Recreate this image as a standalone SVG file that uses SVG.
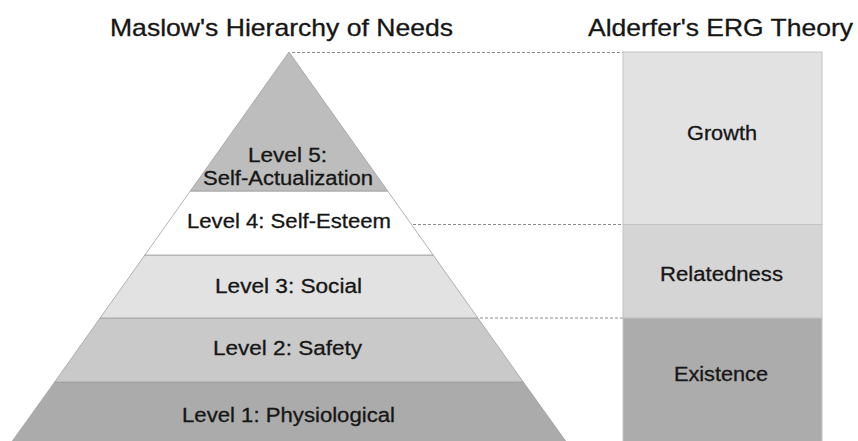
<svg xmlns="http://www.w3.org/2000/svg" width="858" height="441" viewBox="0 0 858 441">
<style>
text{font-family:"Liberation Sans",Arial,sans-serif;fill:#161616;stroke:#161616;stroke-width:0.3}
.t{font-size:24px}
.l{font-size:20px}
.band{stroke:#a0a0a0;stroke-width:0.8}
.box{stroke:#c4c4c4;stroke-width:1}
.dash{stroke:#8a8a8a;stroke-width:1;stroke-dasharray:3 2;fill:none}
</style>
<rect width="858" height="441" fill="#ffffff"/>
<g id="titles">
<text class="t" x="110" y="36" textLength="343" lengthAdjust="spacingAndGlyphs">Maslow's Hierarchy of Needs</text>
<text class="t" x="588" y="36" textLength="265" lengthAdjust="spacingAndGlyphs">Alderfer's ERG Theory</text>
</g>
<g id="connectors">
<line class="dash" x1="292" y1="52.5" x2="623" y2="52.5"/>
<line class="dash" x1="413" y1="224.5" x2="623" y2="224.5"/>
<line class="dash" x1="480" y1="318" x2="623" y2="318"/>
</g>
<g id="level1">
<polygon class="band" points="54.7,382 523.3,382 566,441.5 12,441.5" fill="#ababab"/>
<text class="l" x="182" y="422" textLength="213" lengthAdjust="spacingAndGlyphs">Level 1: Physiological</text>
</g>
<g id="level2">
<polygon class="band" points="100.1,318 477.9,318 523.3,382 54.7,382" fill="#c9c9c9"/>
<text class="l" x="213" y="355" textLength="149" lengthAdjust="spacingAndGlyphs">Level 2: Safety</text>
</g>
<g id="level3">
<polygon class="band" points="144.9,255 433.1,255 477.9,318 100.1,318" fill="#e2e2e2"/>
<text class="l" x="215" y="293" textLength="147" lengthAdjust="spacingAndGlyphs">Level 3: Social</text>
</g>
<g id="level4">
<polygon class="band" points="190.3,191 387.7,191 433.1,255 144.9,255" fill="#ffffff"/>
<text class="l" x="187" y="228" textLength="204" lengthAdjust="spacingAndGlyphs">Level 4: Self-Esteem</text>
</g>
<g id="level5">
<polygon class="band" points="289,52 387.7,191 190.3,191" fill="#bdbdbd"/>
<text class="l" x="248" y="162" textLength="79" lengthAdjust="spacingAndGlyphs">Level 5:</text>
<text class="l" x="203" y="185" textLength="170" lengthAdjust="spacingAndGlyphs">Self-Actualization</text>
</g>
<g id="growth">
<rect class="box" x="623" y="52" width="199" height="172.5" fill="#e2e2e2"/>
<text class="l" x="687" y="140" textLength="70" lengthAdjust="spacingAndGlyphs">Growth</text>
</g>
<g id="relatedness">
<rect class="box" x="623" y="224.5" width="199" height="93.5" fill="#d5d5d5"/>
<text class="l" x="660" y="281" textLength="123" lengthAdjust="spacingAndGlyphs">Relatedness</text>
</g>
<g id="existence">
<rect class="box" x="623" y="318" width="199" height="124" fill="#acacac"/>
<text class="l" x="674" y="381" textLength="94" lengthAdjust="spacingAndGlyphs">Existence</text>
</g>
</svg>
